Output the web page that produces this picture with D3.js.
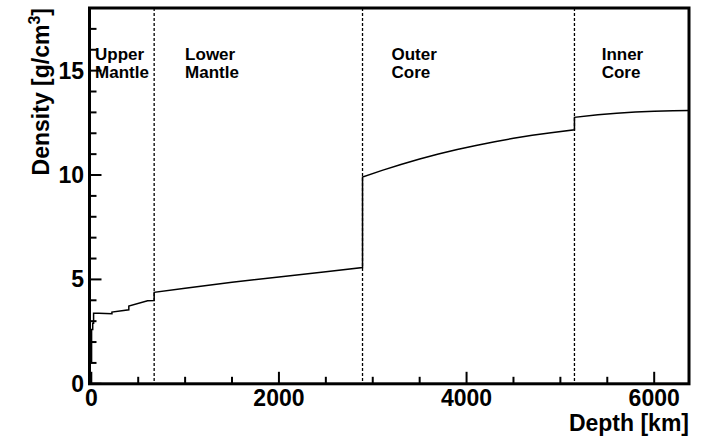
<!DOCTYPE html>
<html>
<head>
<meta charset="utf-8">
<script src="https://cdn.jsdelivr.net/npm/d3@7"></script>
<style>
  body { margin: 0; background: #fff; }
  svg { display: block; }
  text { font-family: "Liberation Sans", Arial, Helvetica, sans-serif; font-weight: bold; fill: #000; }
</style>
</head>
<body>
<div id="chart"></div>
<script>
// PREM density profile (depth in km, density in g/cm3)
const depth   = [0, 3, 3, 15, 15, 24.4, 24.4, 80, 220, 220, 400, 400, 600, 670, 670,
                 1000, 1500, 2000, 2500, 2891, 2891, 3100, 3300, 3500, 3700, 3900, 4100,
                 4300, 4500, 4700, 4900, 5150, 5150, 5400, 5600, 5800, 6000, 6200, 6371];
const density = [1.02, 1.02, 2.6, 2.6, 2.9, 2.9, 3.38, 3.375, 3.36, 3.436, 3.543, 3.724, 3.976, 3.992, 4.381,
                 4.580, 4.860, 5.121, 5.372, 5.566, 9.904, 10.224, 10.507, 10.766, 11.004, 11.221, 11.418,
                 11.596, 11.756, 11.900, 12.028, 12.167, 12.764, 12.883, 12.959, 13.018, 13.059, 13.082, 13.089];

const boundaries = [670, 2891, 5150];
const regions = [
  { lines: ["Upper", "Mantle"], at: 40 },
  { lines: ["Lower", "Mantle"], at: 1000 },
  { lines: ["Outer", "Core"], at: 3200 },
  { lines: ["Inner", "Core"], at: 5440 }
];
const xTicks = [0, 2000, 4000, 6000];
const yTicks = [0, 5, 10, 15];
const xMinor = d3.range(0, 6371, 500);
const yMinor = d3.range(0, 18, 1);

const W = 702, H = 442;
const ink = "black";
const x = d3.scaleLinear().domain([0, 6371]).range([91.3, 689]);
const y = d3.scaleLinear().domain([0, 18]).range([383.8, 8]);

const svg = d3.select("#chart").append("svg")
  .attr("width", W).attr("height", H);

// frame
svg.append("rect")
  .attr("x", 89.5).attr("y", 8)
  .attr("width", 599.5).attr("height", 375.8)
  .attr("fill", "none")
  .attr("stroke", ink)
  .attr("stroke-width", 3);

// ticks, drawn inward
svg.selectAll(".xtick")
  .data(xMinor)
  .join("line")
  .attr("class", "xtick")
  .attr("x1", d => x(d)).attr("x2", d => x(d))
  .attr("y1", y(0))
  .attr("y2", d => y(0) - (xTicks.includes(d) ? 12 : 7))
  .attr("stroke", ink)
  .attr("stroke-width", 2);

svg.selectAll(".ytick")
  .data(yMinor)
  .join("line")
  .attr("class", "ytick")
  .attr("y1", d => y(d)).attr("y2", d => y(d))
  .attr("x1", 89.5)
  .attr("x2", d => 89.5 + (yTicks.includes(d) ? 12 : 7))
  .attr("stroke", ink)
  .attr("stroke-width", 2);

// boundary lines between layers
svg.selectAll(".bound")
  .data(boundaries)
  .join("line")
  .attr("class", "bound")
  .attr("x1", d => x(d)).attr("x2", d => x(d))
  .attr("y1", y(18)).attr("y2", y(0))
  .attr("stroke", ink)
  .attr("stroke-width", 1.3)
  .attr("stroke-dasharray", "3,2");

// density curve
const pts = depth.map((d, i) => [d, density[i]]);
svg.append("path")
  .datum(pts)
  .attr("fill", "none")
  .attr("stroke", ink)
  .attr("stroke-width", 1.5)
  .attr("d", d3.line().x(d => x(d[0])).y(d => y(d[1])));

// tick labels
svg.selectAll(".xlab")
  .data(xTicks)
  .join("text")
  .attr("class", "xlab")
  .attr("x", d => x(d))
  .attr("y", 406)
  .attr("text-anchor", "middle")
  .style("font-size", "23px")
  .text(d => d);

svg.selectAll(".ylab")
  .data(yTicks)
  .join("text")
  .attr("class", "ylab")
  .attr("x", 84)
  .attr("y", d => y(d) + 8)
  .attr("text-anchor", "end")
  .style("font-size", "23px")
  .text(d => d);

// axis titles
svg.append("text")
  .attr("x", 689).attr("y", 431)
  .attr("text-anchor", "end")
  .style("font-size", "23px")
  .text("Depth [km]");

const yt = svg.append("text")
  .attr("transform", "translate(48.5,8) rotate(-90)")
  .attr("text-anchor", "end")
  .style("font-size", "23px");
yt.append("tspan").text("Density [g/cm");
yt.append("tspan").attr("dy", -9).style("font-size", "16px").text("3");
yt.append("tspan").attr("dy", 9).text("]");

// layer names
regions.forEach(r => {
  const t = svg.append("text")
    .attr("x", x(r.at))
    .attr("y", 59.5)
    .style("font-size", "17px");
  r.lines.forEach((l, i) => {
    t.append("tspan").attr("x", x(r.at)).attr("dy", i === 0 ? 0 : 18.5).text(l);
  });
});
</script>
</body>
</html>
